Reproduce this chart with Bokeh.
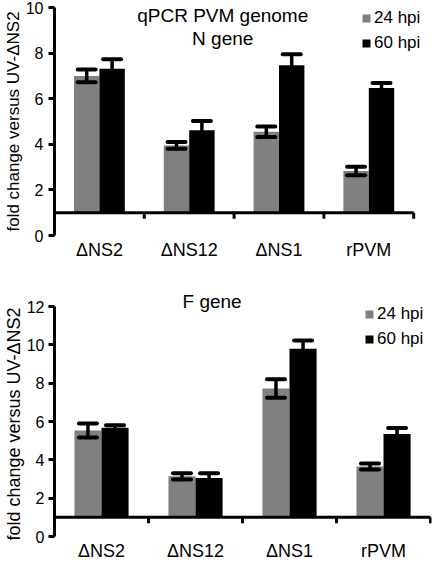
import numpy as np
from bokeh.plotting import figure
from bokeh.models import (ColumnDataSource, FixedTicker, Whisker, TeeHead,
                          Legend, LegendItem, Label, Title)
from bokeh.layouts import column
from bokeh.embed import file_html
from bokeh.resources import INLINE

# ---------------- data ----------------
categories = ["ΔNS2", "ΔNS12", "ΔNS1", "rPVM"]
series = ["24 hpi", "60 hpi"]

n_24 = [7.00, 3.95, 4.55, 2.83]
n_24_err = [0.28, 0.15, 0.23, 0.19]
n_60 = [7.31, 4.62, 7.47, 6.47]
n_60_err = [0.42, 0.40, 0.48, 0.22]

f_24 = [5.53, 3.14, 7.72, 3.65]
f_24_err = [0.37, 0.16, 0.48, 0.16]
f_60 = [5.68, 3.05, 9.80, 5.35]
f_60_err = [0.12, 0.25, 0.43, 0.31]

n_yticks = [0, 2, 4, 6, 8, 10]
f_yticks = [0, 2, 4, 6, 8, 10, 12]
baseline = 1.0

n_titles = ["qPCR PVM genome", "N gene"]
f_titles = ["F gene"]
y_label_n = "fold change versus UV-ΔNS2"
y_label_f = "fold change versus  UV-ΔNS2"

FONT = "Liberation Sans"
GRAY = "#808080"
BLACK = "#000000"


def panel(v24, e24, v60, e60, yticks, ylabel, ylabel_size,
          width, height, top, bottom, left, px_x, bar_w,
          legend_px, tick_standoff):
    n = len(categories)
    frame_w = width - left
    frame_h = height - top - bottom
    x_end = frame_w / px_x

    p = figure(width=width, height=height, x_range=(0, x_end),
               y_range=(yticks[0], yticks[-1]),
               output_backend="svg", toolbar_location=None,
               min_border_top=top, min_border_bottom=bottom,
               min_border_right=2, min_border_left=10)
    p.xgrid.visible = False
    p.ygrid.visible = False
    p.outline_line_color = None
    p.background_fill_color = "white"
    p.border_fill_color = "white"

    centers = np.arange(n) + 0.5
    off = bar_w / 2.0
    s24 = ColumnDataSource(dict(x=centers - off, top=v24,
                                upper=np.array(v24) + np.array(e24),
                                lower=np.array(v24) - np.array(e24)))
    s60 = ColumnDataSource(dict(x=centers + off, top=v60,
                                upper=np.array(v60) + np.array(e60),
                                lower=np.array(v60) - np.array(e60)))
    r24 = p.vbar(x="x", top="top", bottom=baseline, width=bar_w, source=s24,
                 fill_color=GRAY, line_color=None)
    r60 = p.vbar(x="x", top="top", bottom=baseline, width=bar_w, source=s60,
                 fill_color=BLACK, line_color=None)

    for src in (s24, s60):
        w = Whisker(source=src, base="x", upper="upper", lower="lower",
                    line_color="black", line_width=3.5, level="annotation",
                    upper_head=TeeHead(size=18, line_width=4, line_color="black",
                                       line_cap="round"),
                    lower_head=TeeHead(size=18, line_width=4, line_color="black",
                                       line_cap="round"))
        p.add_layout(w)

    # category axis line at y = baseline with boundary ticks
    px_y = frame_h / (yticks[-1] - yticks[0])
    p.segment(x0=[0], x1=[n], y0=[baseline], y1=[baseline],
              line_color="black", line_width=3)
    bounds = np.arange(1, n + 1)
    p.segment(x0=bounds, x1=bounds, y0=[baseline] * n,
              y1=[baseline - 6.0 / px_y] * n, line_color="black", line_width=3)

    xa = p.xaxis[0]
    xa.ticker = FixedTicker(ticks=list(centers))
    xa.major_label_overrides = {float(c): cat for c, cat in zip(centers, categories)}
    xa.axis_line_color = None
    xa.major_tick_line_color = None
    xa.minor_tick_line_color = None
    xa.major_tick_out = 0
    xa.major_tick_in = 0
    xa.major_label_standoff = 4
    xa.major_label_text_font = FONT
    xa.major_label_text_font_size = "18px"
    xa.major_label_text_color = "black"

    ya = p.yaxis[0]
    ya.ticker = FixedTicker(ticks=yticks)
    ya.axis_line_width = 3
    ya.axis_line_color = "black"
    ya.major_tick_line_width = 3
    ya.major_tick_line_color = "black"
    ya.major_tick_out = 6
    ya.major_tick_in = 0
    ya.minor_tick_line_color = None
    ya.major_label_standoff = tick_standoff
    ya.major_label_text_font = FONT
    ya.major_label_text_font_size = "16px"
    ya.major_label_text_color = "black"
    ya.axis_label = ylabel
    ya.axis_label_standoff = 0
    ya.axis_label_text_font = FONT
    ya.axis_label_text_font_size = ylabel_size
    ya.axis_label_text_font_style = "normal"
    ya.axis_label_text_color = "black"

    lx, ly = legend_px  # legend top-left relative to frame top-left (px)
    legend = Legend(items=[LegendItem(label=series[0], renderers=[r24]),
                           LegendItem(label=series[1], renderers=[r60])],
                    location=(lx, frame_h - ly - 45),
                    orientation="vertical",
                    glyph_width=10, glyph_height=10, label_standoff=3,
                    spacing=5, padding=0, margin=0, label_height=20,
                    label_text_font=FONT, label_text_font_size="17px",
                    label_text_color="black",
                    border_line_color=None, background_fill_alpha=0)
    p.add_layout(legend)
    return p, px_y


p1, py1 = panel(n_24, n_24_err, n_60, n_60_err, n_yticks, y_label_n, "17px",
                width=433, height=262, top=7, bottom=25, left=52,
                px_x=90.75, bar_w=0.283, legend_px=(307, 3), tick_standoff=5)
# titles inside the top frame
for t, row in zip(n_titles, [8, 31]):
    p1.add_layout(Label(x=(222 - 52) / 90.75, y=n_yticks[-1] - row / py1,
                        text=t, text_align="center", text_baseline="middle",
                        text_font=FONT, text_font_size="19px",
                        text_color="black"))

p2, py2 = panel(f_24, f_24_err, f_60, f_60_err, f_yticks, y_label_f, "18px",
                width=433, height=301, top=44, bottom=22, left=50,
                px_x=95.5, bar_w=0.288, legend_px=(310, 3), tick_standoff=4)
# title of the lower panel in the area above its frame
p2.title = Title(text=f_titles[0], align="left", offset=128,
                 vertical_align="bottom", standoff=-11, text_font=FONT,
                 text_font_size="19px", text_font_style="normal",
                 text_color="black")

layout = column(p1, p2, spacing=0)
open("out.html", "w").write(file_html(layout, INLINE))
